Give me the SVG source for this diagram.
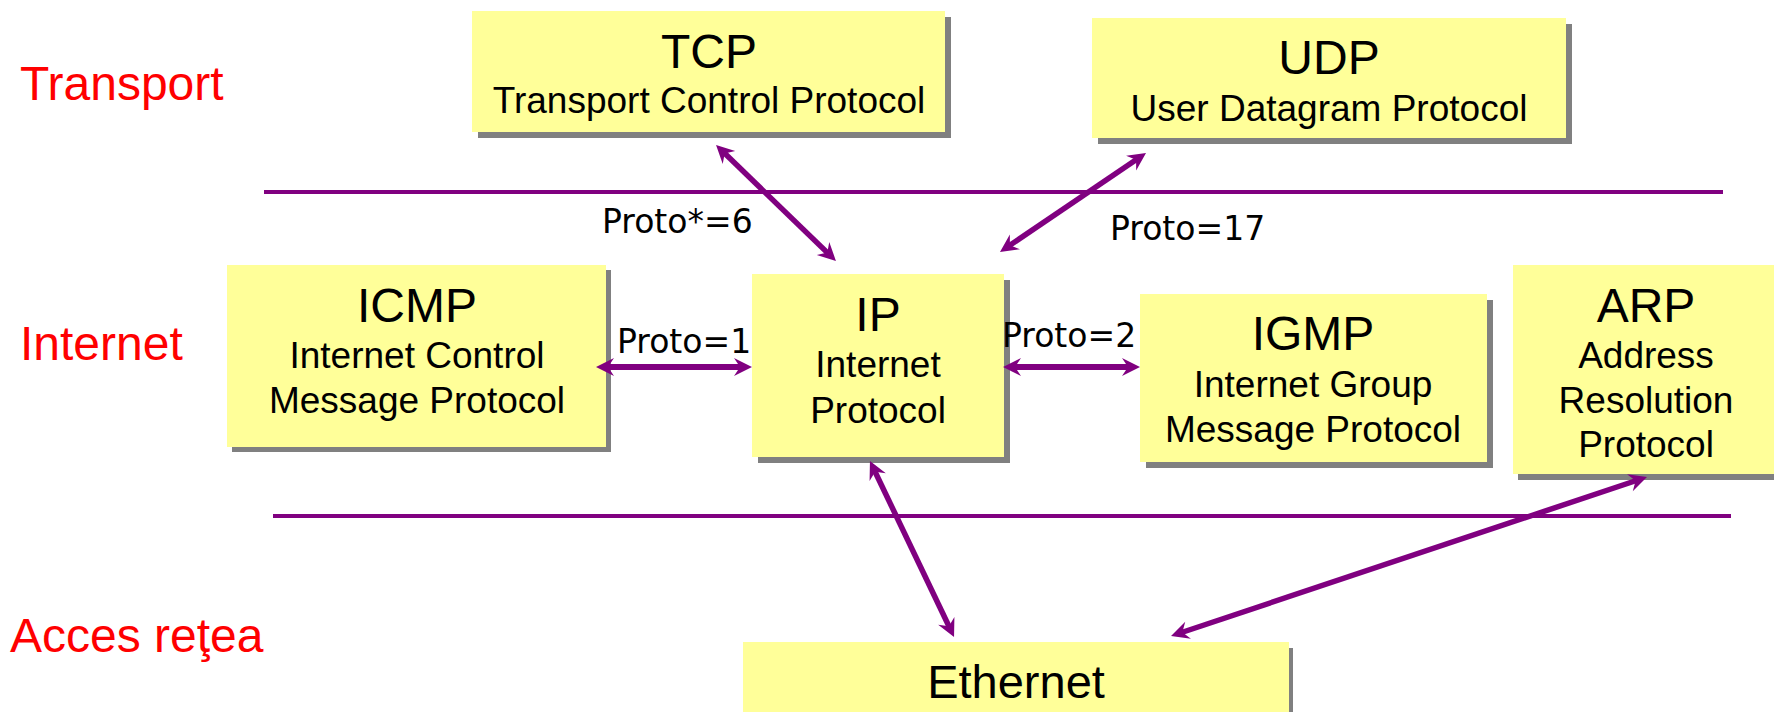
<svg xmlns="http://www.w3.org/2000/svg" width="1774" height="712" viewBox="0 0 1774 712">
<style>
.box{fill:#FFFF99}
.sh{fill:#808080}
.t{font-family:"Liberation Sans",Arial,sans-serif;fill:#000;text-anchor:middle}
.big{font-size:48px}
.sub{font-size:37px}
.layer{font-family:"Liberation Sans",Arial,sans-serif;font-size:48px;fill:#FF0000}
.lbl{font-family:"DejaVu Sans",Verdana,sans-serif;font-size:33px;fill:#000}
.sep{stroke:#800080;stroke-width:4;fill:none}
.conn{stroke:#800080;stroke-width:5.5;fill:none;marker-start:url(#ah);marker-end:url(#ah)}
.connh{stroke-width:6}
</style>
<defs>
<marker id="ah" markerUnits="userSpaceOnUse" markerWidth="22" markerHeight="22" viewBox="-20 -11 22 22" refX="-8" refY="0" orient="auto-start-reverse">
<path d="M0,0 L-18,-9 L-12,0 L-18,9 Z" fill="#800080"/>
</marker>
</defs>
<rect width="1774" height="712" fill="#fff"/>

<g id="layers">
<text class="layer" x="20" y="100">Transport</text>
<text class="layer" x="20" y="360">Internet</text>
<text class="layer" x="10" y="652">Acces reţea</text>
</g>

<g id="separators">
<line class="sep" x1="264" y1="192" x2="1723" y2="192"/>
<line class="sep" x1="273" y1="516" x2="1731" y2="516"/>
</g>

<g id="tcp">
<rect class="sh" x="478" y="17" width="473" height="121"/>
<rect class="box" x="472" y="11" width="473" height="121"/>
<text class="t big" x="709" y="68">TCP</text>
<text class="t sub" x="709" y="113">Transport Control Protocol</text>
</g>

<g id="udp">
<rect class="sh" x="1098" y="24" width="474" height="120"/>
<rect class="box" x="1092" y="18" width="474" height="120"/>
<text class="t big" x="1329" y="74">UDP</text>
<text class="t sub" x="1329" y="121">User Datagram Protocol</text>
</g>

<g id="icmp">
<rect class="sh" x="232" y="270" width="379" height="182"/>
<rect class="box" x="227" y="265" width="379" height="182"/>
<text class="t big" x="417" y="322">ICMP</text>
<text class="t sub" x="417" y="368">Internet Control</text>
<text class="t sub" x="417" y="413">Message Protocol</text>
</g>

<g id="ip">
<rect class="sh" x="758" y="280" width="252" height="183"/>
<rect class="box" x="752" y="274" width="252" height="183"/>
<text class="t big" x="878" y="331">IP</text>
<text class="t sub" x="878" y="377">Internet</text>
<text class="t sub" x="878" y="423">Protocol</text>
</g>

<g id="igmp">
<rect class="sh" x="1146" y="300" width="347" height="168"/>
<rect class="box" x="1140" y="294" width="347" height="168"/>
<text class="t big" x="1313" y="350">IGMP</text>
<text class="t sub" x="1313" y="397">Internet Group</text>
<text class="t sub" x="1313" y="442">Message Protocol</text>
</g>

<g id="arp">
<rect class="sh" x="1518" y="271" width="266" height="209"/>
<rect class="box" x="1513" y="265" width="266" height="209"/>
<text class="t big" x="1646" y="322">ARP</text>
<text class="t sub" x="1646" y="368">Address</text>
<text class="t sub" x="1646" y="413">Resolution</text>
<text class="t sub" x="1646" y="457">Protocol</text>
</g>

<g id="ethernet">
<rect class="sh" x="748" y="648" width="545" height="80"/>
<rect class="box" x="743" y="642" width="546" height="80"/>
<text class="t big" x="1016" y="698" style="font-size:47px">Ethernet</text>
</g>

<g id="connectors">
<line class="conn" x1="721.8" y1="150.6" x2="830.2" y2="255.4"/>
<line class="conn" x1="1139.4" y1="157.5" x2="1006.6" y2="247.5"/>
<line class="conn connh" x1="604" y1="367" x2="744" y2="367"/>
<line class="conn connh" x1="1011" y1="367" x2="1132" y2="367"/>
<line class="conn" x1="873.4" y1="468.2" x2="950.6" y2="629.8"/>
<line class="conn" x1="1639.4" y1="479.5" x2="1178.6" y2="633.5"/>
</g>

<g id="labels">
<text class="lbl" x="602" y="233">Proto*=6</text>
<text class="lbl" x="1110" y="240">Proto=17</text>
<text class="lbl" x="617" y="353">Proto=1</text>
<text class="lbl" x="1002" y="347">Proto=2</text>
</g>
</svg>
